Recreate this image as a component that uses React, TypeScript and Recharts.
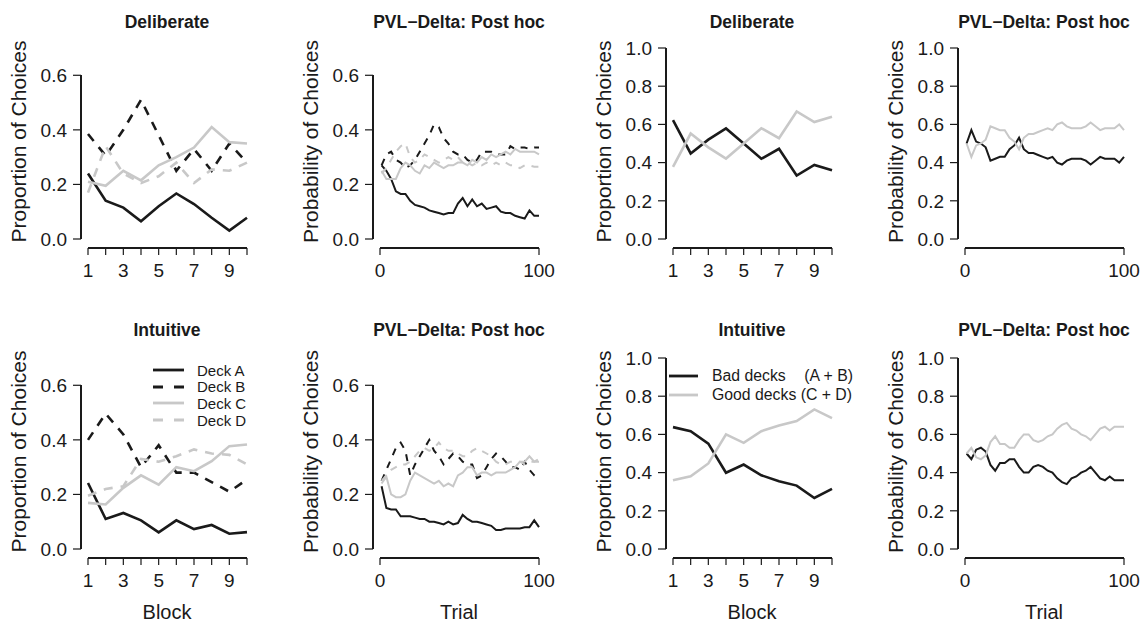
import React from 'react';
import { LineChart, Line, XAxis, YAxis, Legend } from 'recharts';

// x values
const blocks = [1, 2, 3, 4, 5, 6, 7, 8, 9, 10];
const trials = [1, 4, 7, 10, 13, 16, 19, 22, 25, 28, 31, 34, 37, 40, 43, 46, 49, 52, 55, 58, 61, 64, 67, 70, 73, 76, 79, 82, 85, 88, 91, 94, 97, 100];
const blockTicks = [1, 2, 3, 4, 5, 6, 7, 8, 9, 10];
const trialTicks = [0, 100];
const deckTicks = [0, 0.2, 0.4, 0.6];
const sumTicks = [0, 0.2, 0.4, 0.6, 0.8, 1.0];

// Deliberate group, observed proportions per block
const delibBlockA = [0.24, 0.14, 0.115, 0.065, 0.12, 0.167, 0.128, 0.078, 0.031, 0.078];
const delibBlockB = [0.385, 0.305, 0.40, 0.51, 0.38, 0.25, 0.33, 0.25, 0.35, 0.28];
const delibBlockC = [0.21, 0.195, 0.25, 0.215, 0.27, 0.30, 0.335, 0.41, 0.355, 0.35];
const delibBlockD = [0.17, 0.34, 0.24, 0.205, 0.23, 0.28, 0.205, 0.255, 0.25, 0.28];
const delibBlockBad = [0.622, 0.448, 0.52, 0.579, 0.50, 0.42, 0.472, 0.332, 0.388, 0.36];
const delibBlockGood = [0.378, 0.552, 0.48, 0.421, 0.50, 0.58, 0.528, 0.668, 0.612, 0.64];

// Deliberate group, PVL-Delta post hoc probabilities per trial
const delibTrialA = [0.27, 0.25, 0.22, 0.175, 0.165, 0.165, 0.14, 0.125, 0.12, 0.115, 0.105, 0.10, 0.095, 0.09, 0.095, 0.095, 0.13, 0.15, 0.12, 0.145, 0.12, 0.13, 0.11, 0.115, 0.12, 0.10, 0.095, 0.095, 0.085, 0.08, 0.075, 0.105, 0.085, 0.085];
const delibTrialB = [0.27, 0.31, 0.32, 0.29, 0.28, 0.26, 0.27, 0.29, 0.32, 0.35, 0.38, 0.42, 0.41, 0.37, 0.35, 0.32, 0.31, 0.31, 0.29, 0.28, 0.29, 0.32, 0.32, 0.32, 0.31, 0.31, 0.31, 0.34, 0.33, 0.335, 0.335, 0.33, 0.335, 0.335];
const delibTrialC = [0.25, 0.22, 0.22, 0.22, 0.26, 0.28, 0.27, 0.25, 0.24, 0.27, 0.26, 0.28, 0.27, 0.26, 0.27, 0.27, 0.28, 0.28, 0.27, 0.29, 0.28, 0.30, 0.29, 0.31, 0.30, 0.31, 0.32, 0.31, 0.33, 0.32, 0.32, 0.32, 0.32, 0.31];
const delibTrialD = [0.24, 0.26, 0.29, 0.32, 0.34, 0.35, 0.30, 0.28, 0.29, 0.31, 0.30, 0.29, 0.28, 0.29, 0.30, 0.29, 0.30, 0.28, 0.28, 0.27, 0.28, 0.27, 0.28, 0.27, 0.28, 0.27, 0.28, 0.27, 0.27, 0.26, 0.27, 0.27, 0.265, 0.265];
const delibTrialBad = [0.50, 0.57, 0.51, 0.50, 0.48, 0.41, 0.42, 0.43, 0.43, 0.47, 0.49, 0.53, 0.47, 0.45, 0.45, 0.44, 0.43, 0.42, 0.43, 0.40, 0.39, 0.41, 0.42, 0.42, 0.42, 0.41, 0.39, 0.41, 0.43, 0.42, 0.42, 0.42, 0.40, 0.43];
const delibTrialGood = [0.50, 0.43, 0.49, 0.50, 0.52, 0.59, 0.58, 0.57, 0.57, 0.53, 0.51, 0.47, 0.53, 0.55, 0.55, 0.56, 0.57, 0.58, 0.57, 0.60, 0.61, 0.59, 0.58, 0.58, 0.58, 0.59, 0.61, 0.59, 0.57, 0.58, 0.58, 0.58, 0.60, 0.57];

// Intuitive group, observed proportions per block
const intuitBlockA = [0.242, 0.11, 0.132, 0.105, 0.061, 0.105, 0.073, 0.088, 0.056, 0.062];
const intuitBlockB = [0.40, 0.496, 0.42, 0.30, 0.38, 0.28, 0.28, 0.245, 0.21, 0.255];
const intuitBlockC = [0.169, 0.163, 0.224, 0.27, 0.236, 0.30, 0.285, 0.322, 0.377, 0.383];
const intuitBlockD = [0.195, 0.22, 0.23, 0.33, 0.32, 0.34, 0.365, 0.35, 0.345, 0.31];
const intuitBlockBad = [0.638, 0.617, 0.552, 0.399, 0.442, 0.386, 0.355, 0.332, 0.267, 0.315];
const intuitBlockGood = [0.36, 0.381, 0.448, 0.60, 0.556, 0.617, 0.647, 0.67, 0.731, 0.685];

// Intuitive group, PVL-Delta post hoc probabilities per trial
const intuitTrialA = [0.23, 0.15, 0.145, 0.145, 0.12, 0.12, 0.12, 0.115, 0.11, 0.11, 0.10, 0.10, 0.095, 0.09, 0.10, 0.09, 0.095, 0.125, 0.11, 0.10, 0.10, 0.095, 0.09, 0.085, 0.07, 0.07, 0.075, 0.075, 0.075, 0.075, 0.08, 0.08, 0.105, 0.08];
const intuitTrialB = [0.25, 0.29, 0.33, 0.37, 0.39, 0.36, 0.27, 0.31, 0.34, 0.37, 0.40, 0.36, 0.34, 0.31, 0.33, 0.35, 0.34, 0.32, 0.31, 0.31, 0.26, 0.27, 0.30, 0.33, 0.35, 0.34, 0.32, 0.30, 0.30, 0.29, 0.32, 0.29, 0.27, 0.255];
const intuitTrialC = [0.24, 0.265, 0.20, 0.19, 0.19, 0.20, 0.25, 0.28, 0.27, 0.26, 0.25, 0.24, 0.25, 0.23, 0.24, 0.23, 0.27, 0.28, 0.30, 0.30, 0.27, 0.28, 0.28, 0.27, 0.28, 0.28, 0.28, 0.29, 0.30, 0.32, 0.32, 0.34, 0.32, 0.32];
const intuitTrialD = [0.25, 0.27, 0.29, 0.30, 0.31, 0.31, 0.32, 0.34, 0.36, 0.37, 0.36, 0.37, 0.39, 0.37, 0.36, 0.36, 0.35, 0.34, 0.34, 0.36, 0.37, 0.36, 0.35, 0.34, 0.32, 0.31, 0.31, 0.32, 0.32, 0.32, 0.31, 0.32, 0.32, 0.33];
const intuitTrialBad = [0.50, 0.47, 0.52, 0.53, 0.51, 0.44, 0.41, 0.45, 0.45, 0.47, 0.47, 0.43, 0.40, 0.40, 0.43, 0.44, 0.43, 0.41, 0.40, 0.37, 0.35, 0.34, 0.37, 0.38, 0.40, 0.41, 0.43, 0.40, 0.37, 0.36, 0.38, 0.36, 0.36, 0.36];
const intuitTrialGood = [0.50, 0.53, 0.48, 0.47, 0.49, 0.56, 0.59, 0.55, 0.55, 0.53, 0.53, 0.57, 0.60, 0.60, 0.57, 0.56, 0.57, 0.59, 0.60, 0.63, 0.65, 0.66, 0.63, 0.62, 0.60, 0.59, 0.57, 0.60, 0.63, 0.64, 0.62, 0.64, 0.64, 0.64];

const FONT = '"Liberation Sans", Arial, Helvetica, sans-serif';
const INK = '#1a1a1a';
const GREY = '#c8c8c8';

// plot box shared by all panels (R-style detached axes)
const AXIS_W = 80;
const PLOT_W = 172;
const PLOT_H = 207;
const PAD_L = 7;
const PAD_R = 6;
const PAD_T = 7;
const PAD_B = 9;
const RULE = 1.2;

type Series = { key: string; values: number[]; color: string; dash?: string; width: number };
type LegendItem = { label: string; right?: string; color: string; dash?: string };
type LegendSpec = { left: number; top: number; rowH: number; lineW: number; gap: number; fontSize: number; textW?: number; items: LegendItem[] };

type PanelProps = {
  left: number;
  top: number;
  marginTop: number;
  titleY: number;
  title: string;
  yLabel: string;
  xLabel?: string;
  xs: number[];
  xDomain: [number, number];
  xTicks: number[];
  oddOnly: boolean;
  yMax: number;
  yTicks: number[];
  series: Series[];
  legend?: LegendSpec;
};

const yTitle = (text: string) => (props: any) => {
  const vb = props.viewBox || { x: 0, y: 0, width: AXIS_W, height: PLOT_H };
  const x = vb.x + vb.width - 55;
  const y = vb.y + vb.height / 2 - 3;
  return (
    <text x={x} y={y} transform={`rotate(-90 ${x} ${y})`} textAnchor="middle" fontFamily={FONT} fontSize={21} fill={INK}>
      {text}
    </text>
  );
};

const xTitle = (text: string) => (props: any) => {
  const vb = props.viewBox || { x: AXIS_W, y: 0, width: PLOT_W, height: 60 };
  return (
    <text x={vb.x + vb.width / 2} y={vb.y + 61} textAnchor="middle" fontFamily={FONT} fontSize={20} fill={INK}>
      {text}
    </text>
  );
};

const legendBox = (spec: LegendSpec) => () => (
  <div style={{ fontFamily: FONT, fontSize: spec.fontSize, color: INK, lineHeight: 1 }}>
    {spec.items.map((it) => (
      <div key={it.label} style={{ display: 'flex', alignItems: 'center', height: spec.rowH, whiteSpace: 'pre' }}>
        <svg width={spec.lineW} height={6} style={{ marginRight: spec.gap, flex: 'none' }}>
          <line x1={0} y1={3} x2={spec.lineW} y2={3} stroke={it.color} strokeWidth={2.8} strokeDasharray={it.dash} />
        </svg>
        <span style={{ display: 'flex', justifyContent: 'space-between', width: spec.textW }}>
          <span>{it.label}</span>
          {it.right && <span>{it.right}</span>}
        </span>
      </div>
    ))}
  </div>
);

const Panel = (p: PanelProps) => {
  const xAxisH = p.xLabel ? 66 : 40;
  const width = AXIS_W + PLOT_W + 10;
  const height = p.marginTop + PLOT_H + xAxisH;
  const rows = p.xs.map((x, i) => {
    const r: Record<string, number> = { x };
    p.series.forEach((s) => {
      r[s.key] = s.values[i];
    });
    return r;
  });

  // R's axis() only runs from the first to the last tick
  const innerH = PLOT_H - PAD_T - PAD_B;
  const topTick = p.yTicks[p.yTicks.length - 1];
  const yGap = PAD_T + ((p.yMax - topTick) / p.yMax) * innerH;
  const yLen = (topTick / p.yMax) * innerH;
  const xLen = PLOT_W - PAD_L - PAD_R;

  return (
    <div style={{ position: 'absolute', left: p.left, top: p.top, width, height }}>
      <div
        style={{
          position: 'absolute',
          left: AXIS_W,
          width: PLOT_W,
          top: p.titleY - 17,
          textAlign: 'center',
          fontFamily: FONT,
          fontWeight: 'bold',
          fontSize: 17.5,
          lineHeight: '20px',
          color: INK,
          whiteSpace: 'nowrap',
        }}
      >
        {p.title}
      </div>
      <LineChart width={width} height={height} data={rows} margin={{ top: p.marginTop, right: 10, bottom: 0, left: 0 }}>
        <XAxis
          dataKey="x"
          type="number"
          domain={p.xDomain}
          ticks={p.xTicks}
          interval={0}
          padding={{ left: PAD_L, right: PAD_R }}
          height={xAxisH}
          tickSize={7}
          tickMargin={9}
          axisLine={false}
          tickLine={{ stroke: INK, strokeWidth: RULE }}
          tick={{ fill: INK, fontSize: 19, fontFamily: FONT }}
          tickFormatter={(v: number) => (p.oddOnly && v % 2 === 0 ? '' : String(v))}
          label={p.xLabel ? xTitle(p.xLabel) : undefined}
        />
        <YAxis
          type="number"
          domain={[0, p.yMax]}
          ticks={p.yTicks}
          interval={0}
          width={AXIS_W}
          padding={{ top: PAD_T, bottom: PAD_B }}
          tickSize={8}
          tickMargin={6}
          axisLine={false}
          tickLine={{ stroke: INK, strokeWidth: RULE }}
          tick={{ fill: INK, fontSize: 19, fontFamily: FONT }}
          tickFormatter={(v: number) => v.toFixed(1)}
          label={yTitle(p.yLabel)}
        />
        {p.series.map((s) => (
          <Line
            key={s.key}
            type="linear"
            dataKey={s.key}
            stroke={s.color}
            strokeWidth={s.width}
            strokeDasharray={s.dash}
            dot={false}
            activeDot={false}
            isAnimationActive={false}
          />
        ))}
        {p.legend && (
          <Legend
            layout="vertical"
            align="center"
            verticalAlign="middle"
            wrapperStyle={{ left: p.legend.left, top: p.legend.top, width: 'auto' }}
            content={legendBox(p.legend)}
          />
        )}
      </LineChart>
      {/* axis rules */}
      <div
        style={{
          position: 'absolute',
          left: AXIS_W - RULE / 2,
          top: p.marginTop + yGap,
          width: RULE,
          height: yLen,
          background: INK,
          pointerEvents: 'none',
        }}
      />
      <div
        style={{
          position: 'absolute',
          left: AXIS_W + PAD_L,
          top: p.marginTop + PLOT_H - RULE / 2,
          width: xLen,
          height: RULE,
          background: INK,
          pointerEvents: 'none',
        }}
      />
    </div>
  );
};

const deckSeries = (a: number[], b: number[], c: number[], d: number[], w: number, dash: string): Series[] => [
  { key: 'a', values: a, color: INK, width: w },
  { key: 'b', values: b, color: INK, width: w, dash },
  { key: 'c', values: c, color: GREY, width: w },
  { key: 'd', values: d, color: GREY, width: w, dash },
];

const sumSeries = (bad: number[], good: number[], w: number): Series[] => [
  { key: 'bad', values: bad, color: INK, width: w },
  { key: 'good', values: good, color: GREY, width: w },
];

const deckLegend: LegendSpec = {
  left: 152,
  top: 62,
  rowH: 16.6,
  lineW: 31,
  gap: 13,
  fontSize: 15,
  items: [
    { label: 'Deck A', color: INK },
    { label: 'Deck B', color: INK, dash: '10 11' },
    { label: 'Deck C', color: GREY },
    { label: 'Deck D', color: GREY, dash: '10 11' },
  ],
};

const sumLegend: LegendSpec = {
  left: 83,
  top: 66.5,
  rowH: 19,
  lineW: 29,
  gap: 14,
  fontSize: 15.8,
  textW: 141,
  items: [
    { label: 'Bad decks', right: '(A + B)', color: INK },
    { label: 'Good decks (C + D)', color: GREY },
  ],
};

const COLS = [81, 373, 666, 958];
const TOP = { top: 0, marginTop: 41, titleY: 29 };
const BOTTOM = { top: 300, marginTop: 51, titleY: 37 };
const POST_HOC = 'PVL\u2212Delta: Post hoc';

export default function App() {
  return (
    <div style={{ position: 'absolute', left: 0, top: 0, width: 1146, height: 624, background: '#fff', overflow: 'hidden' }}>
      <Panel {...TOP} left={COLS[0] - AXIS_W} title="Deliberate" yLabel="Proportion of Choices"
        xs={blocks} xDomain={[1, 10]} xTicks={blockTicks} oddOnly yMax={0.7} yTicks={deckTicks}
        series={deckSeries(delibBlockA, delibBlockB, delibBlockC, delibBlockD, 2.6, '9 8')} />
      <Panel {...TOP} left={COLS[1] - AXIS_W} title={POST_HOC} yLabel="Probability of Choices"
        xs={trials} xDomain={[0, 100]} xTicks={trialTicks} oddOnly={false} yMax={0.7} yTicks={deckTicks}
        series={deckSeries(delibTrialA, delibTrialB, delibTrialC, delibTrialD, 2, '7 7')} />
      <Panel {...TOP} left={COLS[2] - AXIS_W} title="Deliberate" yLabel="Proportion of Choices"
        xs={blocks} xDomain={[1, 10]} xTicks={blockTicks} oddOnly yMax={1} yTicks={sumTicks}
        series={sumSeries(delibBlockBad, delibBlockGood, 2.6)} />
      <Panel {...TOP} left={COLS[3] - AXIS_W} title={POST_HOC} yLabel="Probability of Choices"
        xs={trials} xDomain={[0, 100]} xTicks={trialTicks} oddOnly={false} yMax={1} yTicks={sumTicks}
        series={sumSeries(delibTrialBad, delibTrialGood, 2)} />

      <Panel {...BOTTOM} left={COLS[0] - AXIS_W} title="Intuitive" yLabel="Proportion of Choices" xLabel="Block"
        xs={blocks} xDomain={[1, 10]} xTicks={blockTicks} oddOnly yMax={0.7} yTicks={deckTicks}
        series={deckSeries(intuitBlockA, intuitBlockB, intuitBlockC, intuitBlockD, 2.6, '9 8')} legend={deckLegend} />
      <Panel {...BOTTOM} left={COLS[1] - AXIS_W} title={POST_HOC} yLabel="Probability of Choices" xLabel="Trial"
        xs={trials} xDomain={[0, 100]} xTicks={trialTicks} oddOnly={false} yMax={0.7} yTicks={deckTicks}
        series={deckSeries(intuitTrialA, intuitTrialB, intuitTrialC, intuitTrialD, 2, '7 7')} />
      <Panel {...BOTTOM} left={COLS[2] - AXIS_W} title="Intuitive" yLabel="Proportion of Choices" xLabel="Block"
        xs={blocks} xDomain={[1, 10]} xTicks={blockTicks} oddOnly yMax={1} yTicks={sumTicks}
        series={sumSeries(intuitBlockBad, intuitBlockGood, 2.6)} legend={sumLegend} />
      <Panel {...BOTTOM} left={COLS[3] - AXIS_W} title={POST_HOC} yLabel="Probability of Choices" xLabel="Trial"
        xs={trials} xDomain={[0, 100]} xTicks={trialTicks} oddOnly={false} yMax={1} yTicks={sumTicks}
        series={sumSeries(intuitTrialBad, intuitTrialGood, 2)} />
    </div>
  );
}
